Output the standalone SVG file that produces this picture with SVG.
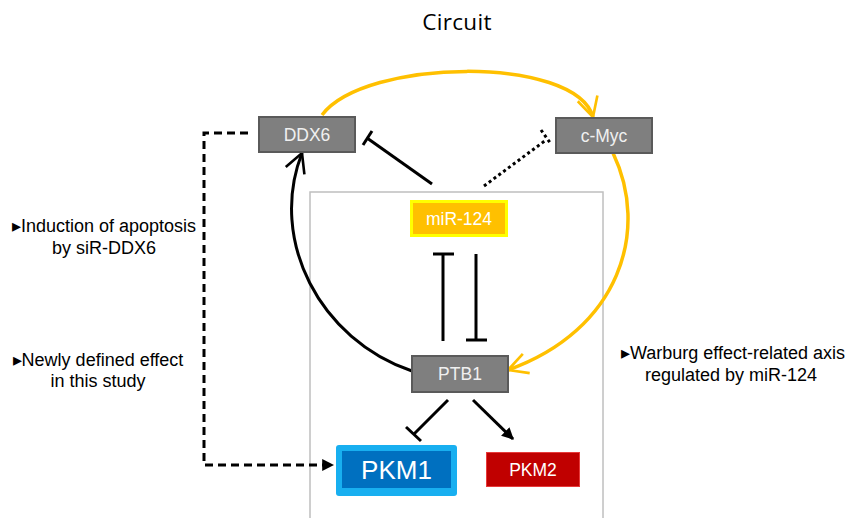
<svg xmlns="http://www.w3.org/2000/svg" width="847" height="518" viewBox="0 0 847 518">
<style>
  .gnode rect { fill: #7f7f7f; stroke: #5a5a5a; stroke-width: 2; }
  .gtxt { font-family: "Liberation Sans", Arial, sans-serif; font-size: 17.5px; fill: #f0f0f0; text-anchor: middle; }
  .note { font-family: "Liberation Sans", Arial, sans-serif; font-size: 18px; fill: #000; text-anchor: middle; }
  .blk { fill: none; stroke: #000; stroke-width: 3; }
  .org { fill: none; stroke: #ffc000; stroke-width: 3.5; }
</style>
<defs>
  <marker id="chevK" viewBox="0 0 12 12" refX="10.5" refY="6" markerWidth="8" markerHeight="8" markerUnits="strokeWidth" orient="auto">
    <path d="M1,1 L10.5,6 L1,11" fill="none" stroke="#000" stroke-width="1.3"/>
  </marker>
  <marker id="chevO" viewBox="0 0 12 12" refX="10.5" refY="6" markerWidth="7" markerHeight="7" markerUnits="strokeWidth" orient="auto">
    <path d="M1,1 L10.5,6 L1,11" fill="none" stroke="#ffc000" stroke-width="1.3"/>
  </marker>
  <marker id="triK" viewBox="0 0 10 10" refX="9" refY="5" markerWidth="4" markerHeight="4" markerUnits="strokeWidth" orient="auto">
    <path d="M0,0 L10,5 L0,10 Z" fill="#000"/>
  </marker>
</defs>
<rect width="847" height="518" fill="#fff"/>
<text x="457" y="30" font-family="Open Sans, Liberation Sans, sans-serif" font-size="22.5" letter-spacing="0.3" text-anchor="middle" fill="#000">Circuit</text>
<rect id="panel" x="310" y="192" width="293" height="340" fill="none" stroke="#bfbfbf" stroke-width="1.5"/>
<g id="connectors">
  <path class="org" d="M322,115 C365,58 575,55 593,117" marker-end="url(#chevO)"/>
  <path class="org" d="M613,153 C650,230 620,330 508,370" marker-end="url(#chevO)"/>
  <path class="blk" d="M412,371 C320,340 268,240 302,153" marker-end="url(#chevK)"/>
  <path class="blk" d="M432,184 L367,138"/>
  <path class="blk" d="M363,145 L372,131"/>
  <path d="M484,186 L546,140" fill="none" stroke="#000" stroke-width="3" stroke-dasharray="3 3"/>
  <path d="M541,130 L551,144" fill="none" stroke="#000" stroke-width="3" stroke-dasharray="3 3"/>
  <path class="blk" d="M443,341 L443,254"/>
  <path class="blk" d="M433,254 L454,254"/>
  <path class="blk" d="M476,254 L476,340"/>
  <path class="blk" d="M466,340 L487,340"/>
  <path class="blk" d="M448,400 L414,434"/>
  <path class="blk" d="M406,427 L421,441"/>
  <path class="blk" d="M473,400 L513,439" marker-end="url(#triK)"/>
  <path d="M248,133 L204,133 L204,465 L333,465" fill="none" stroke="#000" stroke-width="3" stroke-dasharray="8 5" marker-end="url(#triK)"/>
</g>
<g id="DDX6" class="gnode"><rect x="259" y="117" width="96" height="35"/><text class="gtxt" x="307" y="141">DDX6</text></g>
<g id="cMyc" class="gnode"><rect x="556" y="118" width="96" height="35"/><text class="gtxt" x="604" y="142">c-Myc</text></g>
<g id="PTB1" class="gnode"><rect x="412" y="356" width="96" height="36"/><text class="gtxt" x="460" y="380">PTB1</text></g>
<g id="miR124"><rect x="411.5" y="201.5" width="95" height="34" fill="#ffc000" stroke="#ffff00" stroke-width="3"/><text class="gtxt" x="459" y="225" style="fill:#fff">miR-124</text></g>
<g id="PKM1"><rect x="336" y="445" width="121" height="51" rx="3" fill="#18aff0"/><rect x="342" y="451" width="109" height="37" fill="#0070c0"/><text x="396.5" y="479" font-family="Liberation Sans, Arial, sans-serif" font-size="26" fill="#fff" text-anchor="middle">PKM1</text></g>
<g id="PKM2"><rect x="486.5" y="452.5" width="93" height="34" fill="#c00000" stroke="#e83a3a" stroke-width="1"/><text class="gtxt" x="533" y="476" style="fill:#fff">PKM2</text></g>
<g id="notes">
  <text class="note" x="104" y="232">▸Induction of apoptosis</text>
  <text class="note" x="104" y="254">by siR-DDX6</text>
  <text class="note" x="98" y="366">▸Newly defined effect</text>
  <text class="note" x="98" y="387">in this study</text>
  <text class="note" x="733" y="359">▸Warburg effect-related axis</text>
  <text class="note" x="731" y="381">regulated by miR-124</text>
</g>
</svg>
